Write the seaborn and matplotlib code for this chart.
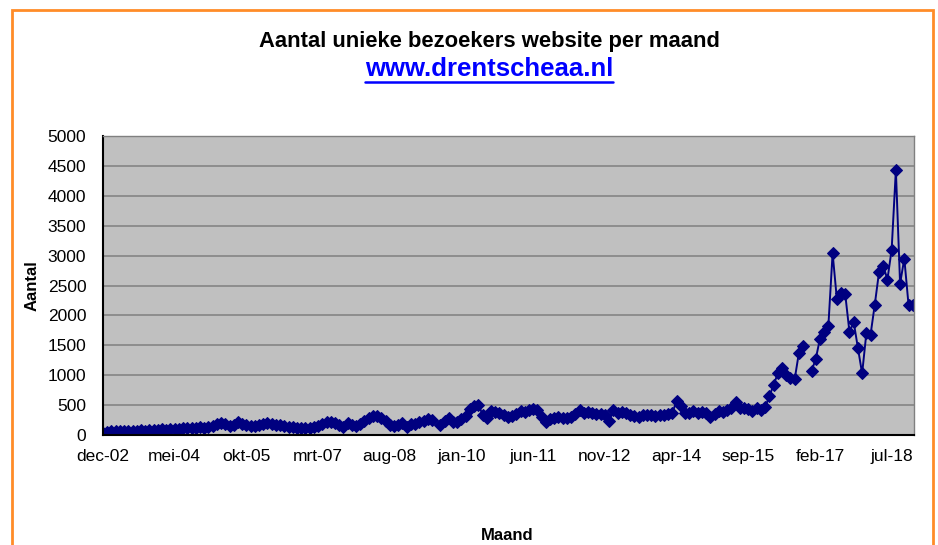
import numpy as np
import pandas as pd
import matplotlib
matplotlib.use("Agg")
import matplotlib.pyplot as plt
import seaborn as sns
from matplotlib.patches import Rectangle
from matplotlib.lines import Line2D

# maandelijkse unieke bezoekers, dec-02 t/m dec-18 (None = ontbrekende maand)
dec_2002 = [40]
jaar_2003 = [55, 60, 65, 60, 70, 65, 75, 70, 80, 75, 85, 80]
jaar_2004 = [90, 95, 90, 100, 105, 100, 110, 115, 110, 125, 130, 120]
jaar_2005 = [140, 150, 180, 195, 185, 150, 170, 210, 180, 165, 150, 150]
jaar_2006 = [170, 190, 200, 185, 175, 165, 150, 135, 130, 120, 115, 110]
jaar_2007 = [115, 130, 150, 180, 210, 215, 205, 160, 140, 200, 170, 145]
jaar_2008 = [180, 230, 280, 320, 320, 290, 230, 175, 150, 170, 200, 140]
jaar_2009 = [190, 190, 215, 240, 260, 250, None, 160, 230, 280, 220, 210]
jaar_2010 = [260, 320, 440, 480, 510, 340, 290, 400, 390, 360, 330, 305]
jaar_2011 = [310, 350, 400, 390, 410, 440, 415, 305, 220, 270, 280, 300]
jaar_2012 = [290, 290, 300, 350, 410, 370, 380, 370, 350, 350, 340, 230]
jaar_2013 = [410, 360, 390, 370, 340, 310, 305, 330, 330, 330, 320, 330]
jaar_2014 = [340, 350, 370, 570, 485, 365, 365, 405, 365, 390, 365, 305]
jaar_2015 = [350, 405, 390, 415, 455, 545, 455, 450, 435, 405, 455, 415]
jaar_2016 = [465, 650, 835, 1030, 1120, 1000, 955, 930, 1370, 1480, None, 1070]
jaar_2017 = [1270, 1610, 1720, 1830, 3040, 2280, 2370, 2350, 1720, 1890, 1455, 1030]
jaar_2018 = [1700, 1680, 2180, 2720, 2830, 2600, 3100, 4430, 2530, 2950, 2180, 2180]

tick_labels = ['dec-02', 'mei-04', 'okt-05', 'mrt-07', 'aug-08', 'jan-10',
               'jun-11', 'nov-12', 'apr-14', 'sep-15', 'feb-17', 'jul-18']

bezoekers = (dec_2002 + jaar_2003 + jaar_2004 + jaar_2005 + jaar_2006 + jaar_2007
             + jaar_2008 + jaar_2009 + jaar_2010 + jaar_2011 + jaar_2012 + jaar_2013
             + jaar_2014 + jaar_2015 + jaar_2016 + jaar_2017 + jaar_2018)

df = pd.DataFrame({'maand': np.arange(len(bezoekers)),
                   'aantal': pd.to_numeric(pd.Series(bezoekers, dtype='object'))})
# segmenten zodat de lijn onderbroken wordt bij ontbrekende maanden
df['segment'] = df['aantal'].isna().cumsum()
df = df.dropna()

sns.set_style("white")
plt.rcParams['font.family'] = ['Liberation Sans', 'DejaVu Sans']
plt.rcParams['text.color'] = 'black'

fig = plt.figure(figsize=(9.38, 5.45), dpi=100)
ax = fig.add_axes([103 / 938, 1 - 435 / 545, (914 - 103) / 938, (435 - 136) / 545])
ax.set_facecolor('#C0C0C0')

sns.lineplot(data=df, x='maand', y='aantal', units='segment', estimator=None,
             color='#000080', marker='D', markersize=6, markeredgecolor='#000080',
             linewidth=1.4, ax=ax, legend=False)

ax.set_xlim(0, len(bezoekers) - 0.7)
ax.set_ylim(0, 5000)
ax.set_yticks(np.arange(0, 5001, 500))
ax.set_xticks(np.arange(0, len(bezoekers), 17))
ax.set_xticklabels(tick_labels)
ax.grid(axis='y', color='#808080', linewidth=1.1)
ax.grid(axis='x', visible=False)
ax.set_axisbelow(True)
ax.tick_params(axis='both', labelsize=12.5, colors='black', length=4, width=1,
               direction='out')
ax.tick_params(axis='y', pad=8)
ax.tick_params(axis='x', pad=6)
for s in ['left', 'bottom']:
    ax.spines[s].set_color('black')
    ax.spines[s].set_linewidth(1.5)
for s in ['top', 'right']:
    ax.spines[s].set_color('#808080')
    ax.spines[s].set_linewidth(1.0)

ax.set_xlabel('')
ax.set_ylabel('')
fig.text(32 / 938, 1 - 286 / 545, 'Aantal', rotation=90, ha='center', va='center',
         fontsize=12, fontweight='bold')
fig.text(507 / 938, 1 - 536 / 545, 'Maand', ha='center', va='center',
         fontsize=12, fontweight='bold')

fig.text(489 / 938, 1 - 42 / 545, 'Aantal unieke bezoekers website per maand',
         ha='center', va='center', fontsize=15.8, fontweight='bold')
url = fig.text(489 / 938, 1 - 69 / 545, 'www.drentscheaa.nl', ha='center', va='center',
               fontsize=18.5, fontweight='bold', color='#0000FF')

# onderstreping van de url
fig.canvas.draw()
bb = url.get_window_extent().transformed(fig.transFigure.inverted())
fig.add_artist(Line2D([bb.x0, bb.x1], [1 - 82 / 545, 1 - 82 / 545],
                      transform=fig.transFigure, color='#0000FF', linewidth=1.8))

# oranje kader rond de grafiek
fig.add_artist(Rectangle((12 / 938, -0.05), (933 - 12) / 938, 1.05 - 10 / 545,
                         transform=fig.transFigure, fill=False,
                         edgecolor='#FF8C28', linewidth=2))

fig.savefig('out.png', dpi=100, facecolor='white')
